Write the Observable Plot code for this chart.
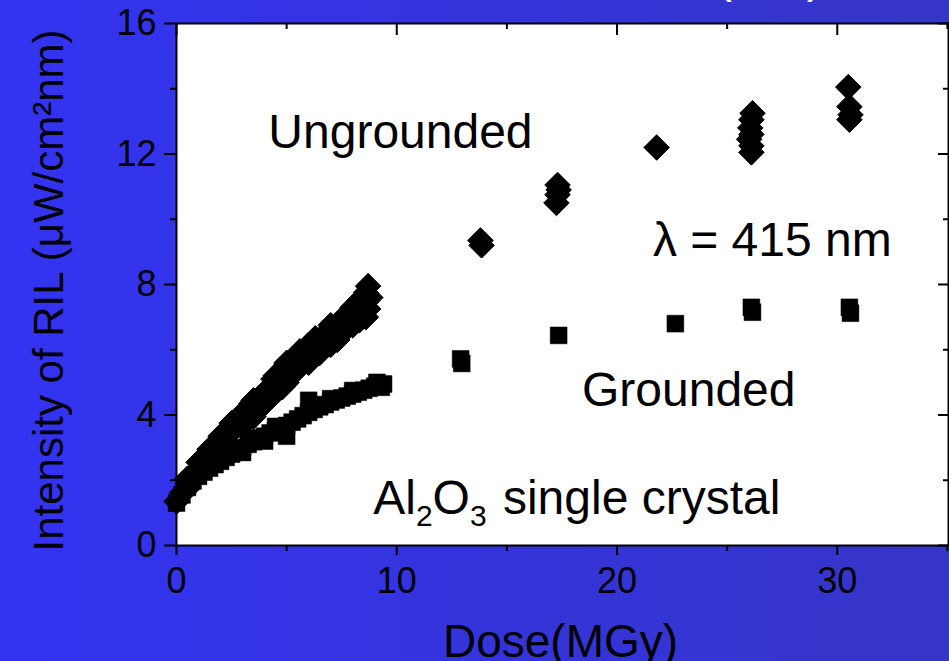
<!DOCTYPE html>
<html>
<head>
<meta charset="utf-8">
<script src="https://cdn.jsdelivr.net/npm/d3@7"></script>
<script src="https://cdn.jsdelivr.net/npm/@observablehq/plot@0.6"></script>
<style>
  html, body { margin: 0; padding: 0; }
  #wrap {
    position: relative; width: 949px; height: 661px; overflow: hidden;
    background: linear-gradient(to right, #3333f2, #3535c6);
    font-family: "Liberation Sans", Arial, Helvetica, sans-serif;
  }
  #topTitle {
    position: absolute; left: 716px; top: -48px; color: white;
    font-size: 48px; line-height: 48px; white-space: nowrap;
  }
  #chart { position: absolute; left: 0; top: 0; }
</style>
</head>
<body>
<div id="wrap">
  <div id="topTitle">(RIL)</div>
  <div id="chart"></div>
</div>
<script>
// ---- Data ----
// Ungrounded sample (diamonds): dose in MGy, RIL intensity in µW/cm²nm
const ungroundedDose = [
  0, 0.25, 0.5, 0.75, 1.0, 1.25, 1.5, 1.75, 2.0, 2.25, 2.5, 2.75, 3.0, 3.25, 3.5, 3.75,
  4.0, 4.25, 4.5, 4.75, 5.0, 5.25, 5.5, 5.75, 6.0, 6.25, 6.5, 6.75, 7.0, 7.25, 7.5, 7.75,
  8.0, 8.25, 8.5,
  1.5, 2.6, 3.4, 4.4, 5.0, 5.6, 6.3, 7.0, 7.6, 8.0, 4.8, 6.0, 7.3,
  0.5, 1.0, 2.0, 3.0, 4.0, 5.5, 6.5, 7.5, 8.3,
  0.5, 1.0, 2.0, 3.0, 4.0, 4.6, 5.5, 6.5, 7.5, 8.3,
  2.5, 3.5, 4.5, 5.0, 6.0, 7.0, 8.0,
  3.5, 5.0, 6.0, 7.0, 8.0,
  8.6, 8.7, 8.65, 8.8, 8.6, 8.7,
  13.8, 13.85, 17.3, 17.35, 17.3, 17.25, 21.8,
  26.15, 26.1, 26.05, 26.1, 26.0, 26.1, 26.1,
  30.5, 30.55, 30.6, 30.55
];
const ungroundedRIL = [
  1.35, 1.62, 1.9, 2.15, 2.35, 2.55, 2.75, 2.95, 3.15, 3.33, 3.5, 3.67, 3.85, 4.0, 4.15, 4.3,
  4.5, 4.68, 4.9, 5.08, 5.25, 5.42, 5.58, 5.72, 5.85, 5.98, 6.1, 6.22, 6.35, 6.5, 6.65, 6.8,
  6.95, 7.1, 7.3,
  2.95, 3.75, 4.35, 5.1, 5.55, 5.95, 6.35, 6.65, 7.0, 7.25, 4.85, 5.65, 6.3,
  2.05, 2.55, 3.35, 4.05, 4.7, 5.8, 6.3, 6.9, 7.5,
  1.75, 2.2, 3.0, 3.7, 4.35, 4.75, 5.4, 5.9, 6.5, 6.9,
  3.75, 4.45, 5.2, 5.6, 6.15, 6.75, 7.3,
  3.95, 5.0, 5.6, 6.15, 6.75,
  7.0, 7.25, 7.5, 7.6, 7.75, 7.95,
  9.35, 9.2, 11.05, 10.9, 10.75, 10.5, 12.2,
  13.25, 13.05, 12.8, 12.6, 12.45, 12.25, 12.05,
  14.05, 13.45, 13.2, 13.05
];
// Grounded sample (squares)
const groundedDose = [
  0, 0.25, 0.5, 0.75, 1.0, 1.25, 1.5, 1.75, 2.0, 2.25, 2.5, 2.75, 3.0, 3.25, 3.5, 3.75,
  4.0, 4.25, 4.5, 4.75, 5.0, 5.25, 5.5, 5.75, 6.0, 6.25, 6.5, 6.75, 7.0, 7.25, 7.5, 7.75,
  8.0, 8.25, 8.5, 8.75, 9.0, 9.25, 9.4,
  5.0, 6.0, 9.3, 9.1,
  1.5, 2.5, 3.5, 4.5, 7.0, 8.0, 3.0, 4.0,
  12.9, 12.95, 17.35, 22.65, 26.1, 26.15, 30.55, 30.6
];
const groundedRIL = [
  1.3, 1.55, 1.78, 1.98, 2.12, 2.25, 2.37, 2.48, 2.58, 2.7, 2.8, 2.9, 3.0, 3.1, 3.18, 3.27,
  3.35, 3.45, 3.52, 3.6, 3.68, 3.78, 3.88, 3.98, 4.08, 4.17, 4.25, 4.32, 4.4, 4.46, 4.52, 4.58,
  4.64, 4.7, 4.76, 4.82, 4.88, 4.93, 4.95,
  3.35, 4.45, 4.85, 5.0,
  2.5, 2.95, 3.3, 3.65, 4.5, 4.75, 2.85, 3.2,
  5.72, 5.58, 6.44, 6.8, 7.3, 7.15, 7.3, 7.12
];

// Axis ticks
const xMajor = [0, 10, 20, 30];
const xMinor = [5, 15, 25, 35];
const yMajor = [0, 4, 8, 12, 16];
const yMinor = [2, 6, 10, 14];

// Text
const xTitle = "Dose(MGy)";
const yTitle = "Intensity of RIL (μW/cm²nm)";
const annoText = ["Ungrounded", "λ = 415 nm", "Grounded", "Al2O3 single crystal"];
const annoX = [4.17, 21.63, 18.41, 8.93];
const annoY = [12.17, 8.86, 4.29, 0.98];

const ungrounded = ungroundedDose.map((d, i) => ({dose: d, ril: ungroundedRIL[i]}));
const grounded = groundedDose.map((d, i) => ({dose: d, ril: groundedRIL[i]}));
const annos = annoText.map((t, i) => ({text: t, x: annoX[i], y: annoY[i]}));
const blank = () => "";

const plot = Plot.plot({
  width: 949,
  height: 661,
  marginLeft: 176,
  marginRight: 1,
  marginTop: 23,
  marginBottom: 116,
  style: {
    background: "transparent",
    color: "black",
    fontFamily: "'Liberation Sans', Arial, Helvetica, sans-serif",
    overflow: "visible"
  },
  x: {domain: [0, 35.05]},
  y: {domain: [0, 16]},
  marks: [
    Plot.frame({fill: "white"}),
    Plot.dot(grounded, {x: "dose", y: "ril", symbol: "square", r: 9.5, fill: "black", stroke: "black", strokeWidth: 0.5}),
    Plot.dot(ungrounded, {x: "dose", y: "ril", symbol: "diamond2", r: 11.5, fill: "black", stroke: "black", strokeWidth: 1}),
    Plot.frame({stroke: "black", strokeWidth: 2}),
    // left axis (outward ticks, labels)
    Plot.axisY({ticks: yMajor, tickSize: 12, tickPadding: 8, fontSize: 36, label: null, strokeWidth: 2}),
    Plot.axisY({ticks: yMinor, tickSize: 6, tickFormat: blank, label: null, strokeWidth: 2}),
    // right axis (inward ticks)
    Plot.axisY({anchor: "right", ticks: yMajor, tickSize: 11, dx: -11, tickFormat: blank, label: null, strokeWidth: 2}),
    Plot.axisY({anchor: "right", ticks: yMinor, tickSize: 6, dx: -6, tickFormat: blank, label: null, strokeWidth: 2}),
    // bottom axis (outward ticks, labels)
    Plot.axisX({ticks: xMajor, tickSize: 10, tickPadding: 12, fontSize: 36, label: null, strokeWidth: 2}),
    Plot.axisX({ticks: xMinor, tickSize: 6, tickFormat: blank, label: null, strokeWidth: 2}),
    // top axis (inward ticks)
    Plot.axisX({anchor: "top", ticks: xMajor, tickSize: 11, dy: 11, tickFormat: blank, label: null, strokeWidth: 2}),
    Plot.axisX({anchor: "top", ticks: xMinor, tickSize: 5, dy: 5, tickFormat: blank, label: null, strokeWidth: 2}),
    // axis titles
    Plot.text([xTitle], {frameAnchor: "bottom", text: d => d, dy: 111, dx: -2, textAnchor: "middle", lineAnchor: "bottom", fontSize: 46, fill: "black"}),
    Plot.text([yTitle], {frameAnchor: "left", text: d => d, rotate: -90, dx: -114, dy: 6, textAnchor: "middle", lineAnchor: "bottom", fontSize: 42, fill: "black"}),
    // annotations
    Plot.text(annos, {x: "x", y: "y", text: "text", textAnchor: "start", lineAnchor: "bottom", fontSize: 48, fill: "black"})
  ]
});

// Subscripts in Al2O3 (kept as real text)
d3.select(plot).selectAll("text").each(function() {
  if (this.textContent === "Al2O3 single crystal") {
    const t = d3.select(this);
    t.text(null);
    t.append("tspan").text("Al");
    t.append("tspan").attr("font-size", 30).attr("dy", 12).text("2");
    t.append("tspan").attr("dy", -12).text("O");
    t.append("tspan").attr("font-size", 30).attr("dy", 12).text("3");
    t.append("tspan").attr("dy", -12).attr("dx", 3).text(" single crystal");
  }
});

document.getElementById("chart").appendChild(plot);
</script>
</body>
</html>
